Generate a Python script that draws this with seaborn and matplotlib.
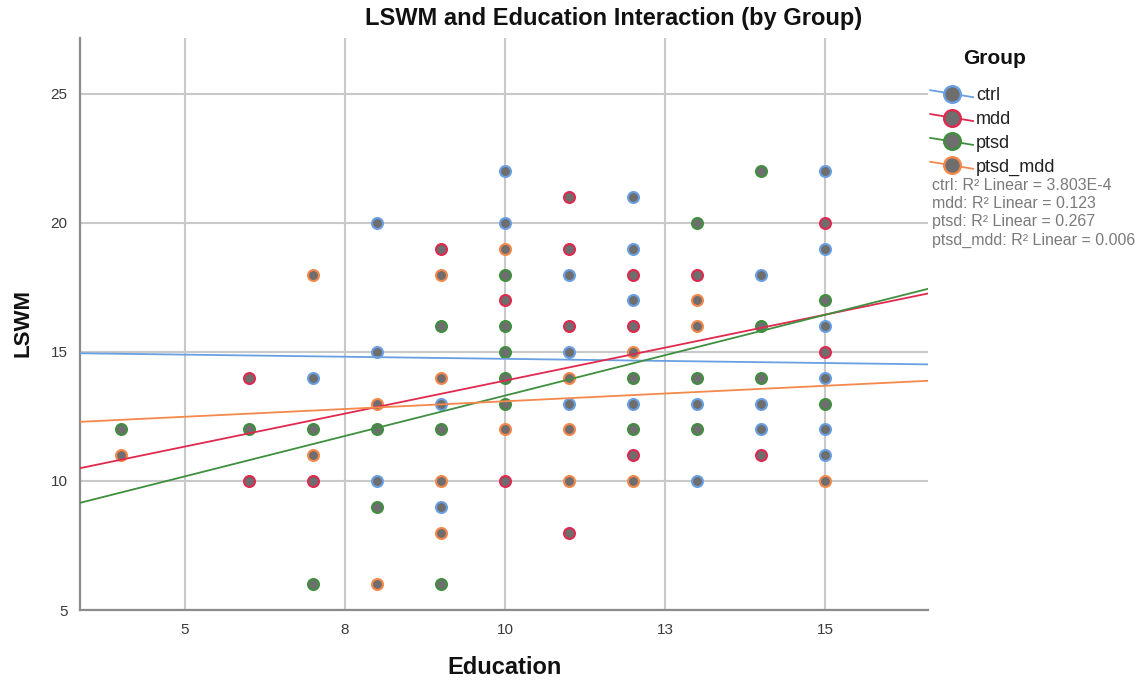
import numpy as np
import pandas as pd
import matplotlib
matplotlib.use("Agg")
import matplotlib.pyplot as plt
from matplotlib.lines import Line2D
from matplotlib.legend_handler import HandlerLine2D
import seaborn as sns

# ---- data -------------------------------------------------------------
groups = ["ctrl", "mdd", "ptsd", "ptsd_mdd"]

ctrl_edu = [7, 8, 8, 8, 9, 9, 10, 10, 11, 11, 11, 12, 12, 12, 12, 13, 13,
            14, 14, 14, 15, 15, 15, 15, 15, 15]
ctrl_lswm = [14, 20, 15, 10, 13, 9, 22, 20, 18, 15, 13, 21, 19, 17, 13, 13, 10,
             18, 13, 12, 22, 19, 16, 14, 12, 11]

mdd_edu = [6, 6, 7, 9, 10, 10, 11, 11, 11, 11, 12, 12, 12, 13, 14, 15, 15]
mdd_lswm = [14, 10, 10, 19, 17, 10, 21, 19, 16, 8, 18, 16, 11, 18, 11, 20, 15]

ptsd_edu = [4, 6, 7, 7, 8, 8, 9, 9, 9, 10, 10, 10, 10, 10, 12, 12, 13, 13, 13,
            14, 14, 14, 15, 15]
ptsd_lswm = [12, 12, 12, 6, 12, 9, 16, 12, 6, 18, 16, 15, 14, 13, 14, 12, 20, 14, 12,
             22, 16, 14, 17, 13]

ptsd_mdd_edu = [4, 7, 7, 8, 8, 9, 9, 9, 9, 10, 10, 11, 11, 11, 12, 12, 13, 13, 15]
ptsd_mdd_lswm = [11, 18, 11, 13, 6, 18, 14, 10, 8, 19, 12, 14, 12, 10, 15, 10, 17, 16, 10]

# linear fit per group (intercept, slope) and its R²
fit_intercept = [15.06, 8.78, 7.05, 11.89]
fit_slope = [-0.0325, 0.511, 0.626, 0.120]
r2_labels = ["3.803E-4", "0.123", "0.267", "0.006"]

x_ticks = [5, 7.5, 10, 12.5, 15]
x_tick_labels = ["5", "8", "10", "13", "15"]
y_ticks = [5, 10, 15, 20, 25]

# ---- styling ----------------------------------------------------------
colors = ["#6a9fe2", "#e0294f", "#3f8f3f", "#f5884a"]
marker_fill = "#6e6e6e"

sns.set_theme(style="white")
plt.rcParams["font.family"] = ["Liberation Sans", "DejaVu Sans"]

df = pd.concat([
    pd.DataFrame({"Education": ctrl_edu, "LSWM": ctrl_lswm, "Group": "ctrl"}),
    pd.DataFrame({"Education": mdd_edu, "LSWM": mdd_lswm, "Group": "mdd"}),
    pd.DataFrame({"Education": ptsd_edu, "LSWM": ptsd_lswm, "Group": "ptsd"}),
    pd.DataFrame({"Education": ptsd_mdd_edu, "LSWM": ptsd_mdd_lswm, "Group": "ptsd_mdd"}),
], ignore_index=True)

W, H = 1143, 682
fig = plt.figure(figsize=(W / 100, H / 100), dpi=100)
ax = fig.add_axes([80 / W, 1 - 610 / H, 848 / W, 572 / H])

ax.set_xlim(3.36, 16.61)
ax.set_ylim(5, 27.17)

# scatter: grey bodies outlined in the group colour
for g, c in zip(groups, colors):
    sns.scatterplot(data=df[df["Group"] == g], x="Education", y="LSWM",
                    color=marker_fill, edgecolor=c, linewidth=1.5, s=62,
                    ax=ax, zorder=3, legend=False)

# fitted lines across the full x range
xs = np.array(ax.get_xlim())
for a, b, c in zip(fit_intercept, fit_slope, colors):
    sns.lineplot(x=xs, y=a + b * xs, color=c, lw=1.3, ax=ax, zorder=4)

ax.set_xlim(3.36, 16.61)
ax.set_ylim(5, 27.17)

ax.set_xticks(x_ticks)
ax.set_xticklabels(x_tick_labels)
ax.set_yticks(y_ticks)
ax.tick_params(axis="both", length=0, labelsize=11, labelcolor="#3a3a3a", pad=9)
ax.grid(True, color="#c9c9c9", lw=1.5, zorder=0)
ax.set_axisbelow(True)
for side in ["top", "right"]:
    ax.spines[side].set_visible(False)
for side in ["left", "bottom"]:
    ax.spines[side].set_color("#8c8c8c")
    ax.spines[side].set_linewidth(1.6)
ax.set_xlabel("")
ax.set_ylabel("")

fig.text(614 / W, 1 - 19 / H, "LSWM and Education Interaction (by Group)",
         ha="center", va="center", fontsize=17, fontweight="bold", color="#111111")
fig.text(505 / W, 1 - 667 / H, "Education", ha="center", va="center",
         fontsize=17, fontweight="bold", color="#111111")
fig.text(23 / W, 1 - 323 / H, "LSWM", ha="center", va="center", rotation=90,
         fontsize=16, fontweight="bold", color="#111111")


class SlopedLineHandler(HandlerLine2D):
    def create_artists(self, legend, orig_handle, xdescent, ydescent,
                       width, height, fontsize, trans):
        arts = super().create_artists(legend, orig_handle, xdescent, ydescent,
                                      width, height, fontsize, trans)
        for art in arts:
            y = np.asarray(art.get_ydata(), dtype=float)
            if len(y) == 3:
                art.set_ydata(y + np.array([0.28, 0.0, -0.28]) * height)
        return arts


handles = [Line2D([], [], color=c, lw=1.3, marker="o", markersize=12,
                  markerfacecolor=marker_fill, markeredgecolor=c,
                  markeredgewidth=1.7) for c in colors]
leg = ax.legend(handles, groups, handler_map={Line2D: SlopedLineHandler()},
                loc="upper left", bbox_to_anchor=(930 / W, 1 - 87 / H),
                bbox_transform=fig.transFigure, frameon=False, numpoints=1,
                fontsize=13, handlelength=2.4, handletextpad=0.15,
                labelspacing=0.38, borderpad=0, borderaxespad=0)
for t in leg.get_texts():
    t.set_color("#222222")
fig.text(995 / W, 1 - 59 / H, "Group", ha="center", va="center",
         fontsize=15, fontweight="bold", color="#111111")

for i, (g, r2) in enumerate(zip(groups, r2_labels)):
    fig.text(932 / W, 1 - (186 + 18 * i) / H, f"{g}: R² Linear = {r2}",
             ha="left", va="center", fontsize=11.5, color="#7a7a7a")

fig.savefig("out.png", dpi=100)
